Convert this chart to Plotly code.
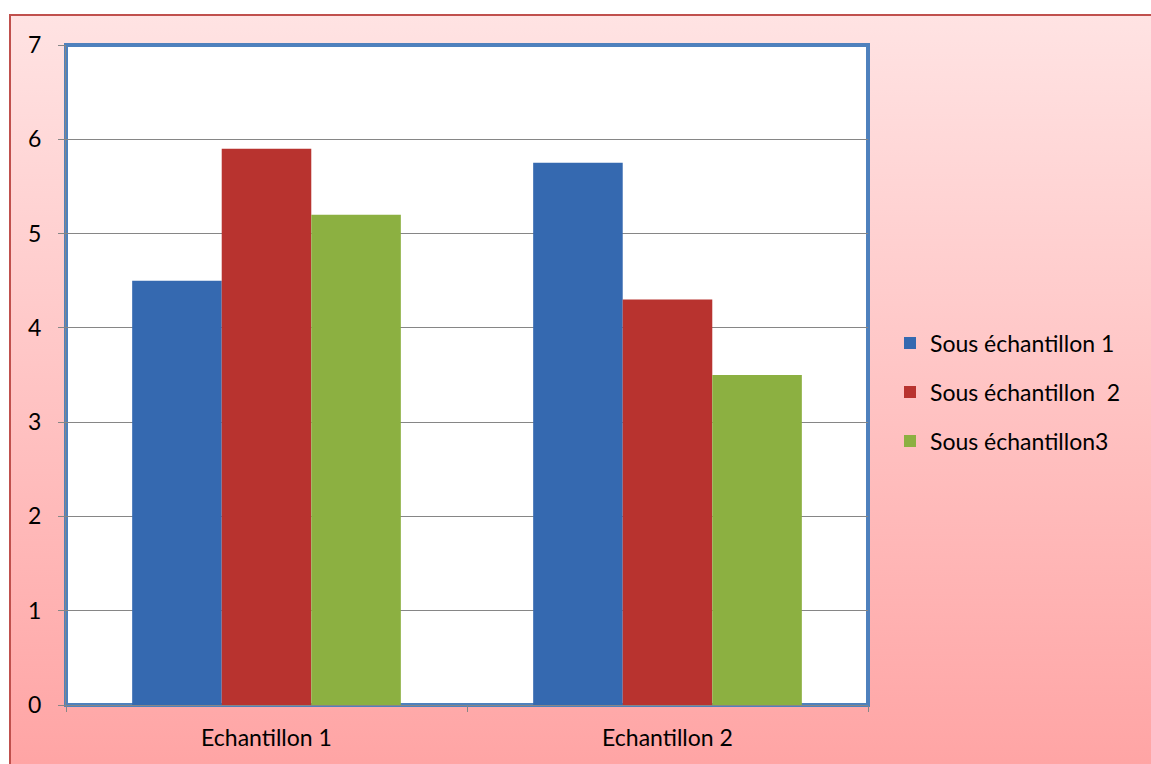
import plotly.graph_objects as go

categories = ["Echantillon 1", "Echantillon 2"]
series_names = ["Sous échantillon 1", "Sous échantillon  2", "Sous échantillon3"]
values_s1 = [4.5, 5.75]
values_s2 = [5.9, 4.3]
values_s3 = [5.2, 3.5]
series_colors = ["#3569B0", "#B8332F", "#8CB041"]
y_ticks = [0, 1, 2, 3, 4, 5, 6, 7]

W, H = 1151, 764
L, R, T, B = 66, 283, 45, 59
pw, ph = W - L - R, H - T - B

fig = go.Figure()
for i, (name, vals) in enumerate(zip(series_names, [values_s1, values_s2, values_s3])):
    fig.add_trace(go.Bar(
        x=categories, y=vals, name=name,
        marker=dict(color=series_colors[i], line=dict(width=0)),
        legendgroup=f"g{i}",
    ))

bg_svg = (
    "data:image/svg+xml;utf8,"
    "<svg xmlns='http://www.w3.org/2000/svg' width='100' height='100' preserveAspectRatio='none'>"
    "<defs><linearGradient id='g' x1='0' y1='0' x2='0' y2='1'>"
    "<stop offset='0' stop-color='%23FFE3E3'/><stop offset='1' stop-color='%23FFA3A3'/>"
    "</linearGradient></defs><rect width='100' height='100' fill='url(%23g)'/></svg>"
)

def px_x(p):
    return (p - L) / pw

def px_y(p):
    return (H - B - p) / ph

fig.update_layout(
    width=W, height=H,
    margin=dict(l=L, r=R, t=T, b=B),
    paper_bgcolor="white",
    plot_bgcolor="white",
    barmode="group",
    bargap=0.33,
    bargroupgap=0,
    font=dict(family="Lato, 'Open Sans', sans-serif", size=23, color="black"),
    legend=dict(
        x=px_x(890), y=0.474, xanchor="left", yanchor="middle",
        bgcolor="rgba(0,0,0,0)", font=dict(size=23),
        traceorder="grouped", tracegroupgap=16, itemwidth=30,
    ),
    xaxis=dict(
        showgrid=False, ticks="outside", tickson="boundaries", ticklen=6,
        tickcolor="#868686", showline=True, linecolor="#868686",
        tickfont=dict(size=23), ticklabelstandoff=12,
    ),
    yaxis=dict(
        range=[0, 7], tickvals=y_ticks, showgrid=True, gridcolor="#868686",
        gridwidth=1, ticks="outside", ticklen=7, tickcolor="#868686",
        showline=True, linecolor="#868686", zeroline=False,
        tickfont=dict(size=23), ticklabelstandoff=12,
    ),
    images=[dict(
        source=bg_svg, xref="paper", yref="paper",
        x=px_x(10), y=px_y(15), sizex=(W + 20 - 10) / pw, sizey=(H + 20 - 15) / ph,
        xanchor="left", yanchor="top", sizing="stretch", layer="below",
    )],
    shapes=[
        dict(type="rect", xref="paper", yref="paper",
             x0=px_x(10), x1=px_x(W + 20), y0=px_y(H + 20), y1=px_y(15),
             line=dict(color="#C0504D", width=2), fillcolor="rgba(0,0,0,0)", layer="below"),
        dict(type="rect", xref="paper", yref="paper",
             x0=0, x1=1, y0=0, y1=1,
             line=dict(color="#4F81BD", width=4), fillcolor="white", layer="below"),
    ],
)

fig.write_html("out.html")
